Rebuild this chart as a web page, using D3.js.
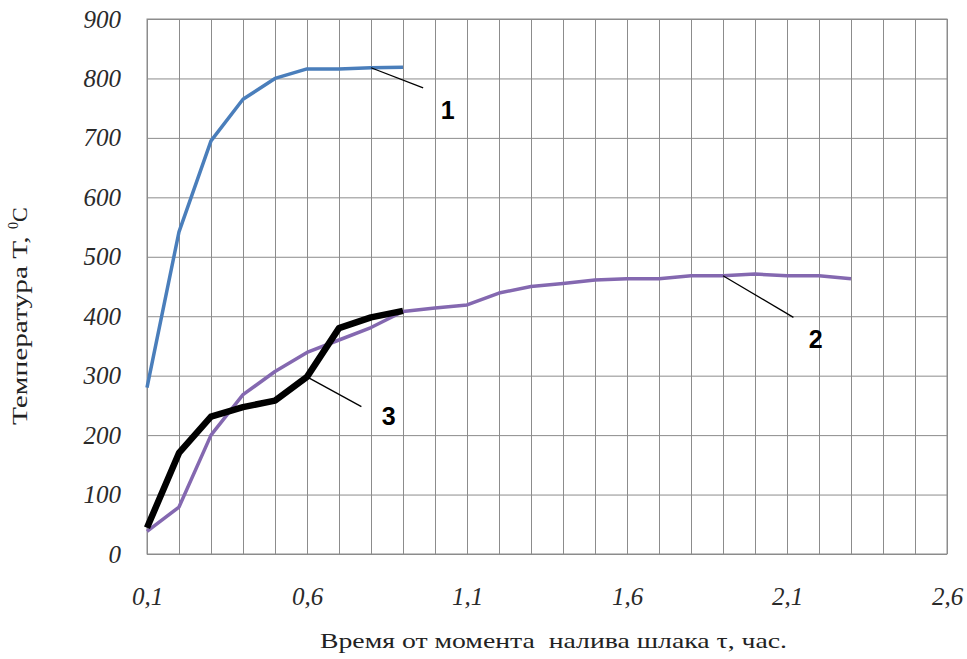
<!doctype html>
<html>
<head>
<meta charset="utf-8">
<script src="https://d3js.org/d3.v7.min.js"></script>
<style>
  body { margin: 0; background: #fff; }
  .grid line, .grid path { stroke: #8c8c8c; }
  .tick text { font-family: "Liberation Serif", serif; font-style: italic; fill: #2a2a2a; }
</style>
</head>
<body>
<svg id="chart" width="967" height="659"></svg>
<script>
// time, hours
var xs = [0.1, 0.2, 0.3, 0.4, 0.5, 0.6, 0.7, 0.8, 0.9, 1.0, 1.1, 1.2, 1.3, 1.4, 1.5, 1.6, 1.7, 1.8, 1.9, 2.0, 2.1, 2.2, 2.3];
// curve 1 (blue)
var curve1 = [280, 542, 695, 765, 800, 816, 816, 818, 819];
// curve 2 (purple)
var curve2 = [38, 79, 200, 268, 307, 339, 360, 381, 408, 414, 419, 439, 450, 455, 461, 463, 463, 468, 468, 471, 468, 468, 463];
// curve 3 (black)
var curve3 = [44, 170, 231, 247, 258, 298, 380, 398, 409];

var xTicks = [0.1, 0.6, 1.1, 1.6, 2.1, 2.6];
var yTicks = [0, 100, 200, 300, 400, 500, 600, 700, 800, 900];

var svg = d3.select("#chart"),
    plotLeft = 147, plotTop = 19, plotRight = 947, plotBottom = 554;

var x = d3.scaleLinear().domain([0.1, 2.6]).range([plotLeft, plotRight]);
var y = d3.scaleLinear().domain([0, 900]).range([plotBottom, plotTop]);

// grid: vertical every 0.1, horizontal every 100
var gridX = d3.range(0, 26).map(function(i) { return +(0.1 + i * 0.1).toFixed(1); });

svg.append("g")
   .attr("class", "grid")
   .attr("transform", "translate(0," + plotBottom + ")")
   .call(d3.axisBottom(x).tickValues(gridX).tickSize(-(plotBottom - plotTop)).tickFormat(""))
   .call(function(g) { g.select(".domain").remove(); });

svg.append("g")
   .attr("class", "grid")
   .attr("transform", "translate(" + plotLeft + ",0)")
   .call(d3.axisLeft(y).tickValues(yTicks).tickSize(-(plotRight - plotLeft)).tickFormat(""))
   .call(function(g) { g.select(".domain").remove(); });

svg.append("rect")
   .attr("x", plotLeft).attr("y", plotTop)
   .attr("width", plotRight - plotLeft).attr("height", plotBottom - plotTop)
   .attr("fill", "none").attr("stroke", "#8c8c8c");

// tick labels
svg.append("g")
   .attr("transform", "translate(0," + plotBottom + ")")
   .call(d3.axisBottom(x).tickValues(xTicks).tickSize(0).tickPadding(33)
         .tickFormat(function(d) { return d3.format(".1f")(d).replace(".", ","); }))
   .call(function(g) {
       g.select(".domain").remove();
       g.selectAll("text").attr("font-size", 25);
   });

svg.append("g")
   .attr("transform", "translate(" + plotLeft + ",0)")
   .call(d3.axisLeft(y).tickValues(yTicks).tickSize(0).tickPadding(26))
   .call(function(g) {
       g.select(".domain").remove();
       g.selectAll("text").attr("font-size", 25);
   });

// curves
var line = d3.line()
    .x(function(d) { return x(d[0]); })
    .y(function(d) { return y(d[1]); });

function pairs(vals) {
    return vals.map(function(v, i) { return [xs[i], v]; });
}

svg.append("path").datum(pairs(curve2))
   .attr("d", line).attr("fill", "none")
   .attr("stroke", "#8468b0").attr("stroke-width", 3.5).attr("stroke-linejoin", "round");

svg.append("path").datum(pairs(curve1))
   .attr("d", line).attr("fill", "none")
   .attr("stroke", "#4a7ebb").attr("stroke-width", 3.5).attr("stroke-linejoin", "round");

svg.append("path").datum(pairs(curve3))
   .attr("d", line).attr("fill", "none")
   .attr("stroke", "#000").attr("stroke-width", 6.5).attr("stroke-linejoin", "round");

// curve numbers with leader lines
var labels = [
    { name: "1", from: [0.8, 818], to: [0.963, 784], at: [1.04, 747] },
    { name: "2", from: [1.9, 468], to: [2.12, 398], at: [2.19, 362] },
    { name: "3", from: [0.6, 298], to: [0.77, 248], at: [0.855, 232] }
];

labels.forEach(function(l) {
    svg.append("line")
       .attr("x1", x(l.from[0])).attr("y1", y(l.from[1]))
       .attr("x2", x(l.to[0])).attr("y2", y(l.to[1]))
       .attr("stroke", "#000").attr("stroke-width", 1.3);
    svg.append("text")
       .attr("x", x(l.at[0])).attr("y", y(l.at[1]))
       .attr("text-anchor", "middle").attr("dy", "0.35em")
       .attr("font-family", "Liberation Sans, Arial, sans-serif")
       .attr("font-weight", "bold").attr("font-size", 25)
       .text(l.name);
});

// axis titles
svg.append("text")
   .attr("x", 320).attr("y", 648)
   .attr("font-family", "Liberation Serif, serif").attr("font-size", 22)
   .attr("fill", "#222")
   .attr("textLength", 467).attr("lengthAdjust", "spacingAndGlyphs")
   .style("white-space", "pre")
   .text("Время от момента  налива шлака τ, час.");

var yt = svg.append("text")
   .attr("transform", "translate(27,425) rotate(-90)")
   .attr("font-family", "Liberation Serif, serif").attr("font-size", 22)
   .attr("fill", "#222");
yt.append("tspan").attr("textLength", 196).attr("lengthAdjust", "spacingAndGlyphs").text("Температура Т, ");
yt.append("tspan").attr("font-size", 14).attr("dy", -9).text("0");
yt.append("tspan").attr("dy", 9).text("С");
</script>
</body>
</html>
